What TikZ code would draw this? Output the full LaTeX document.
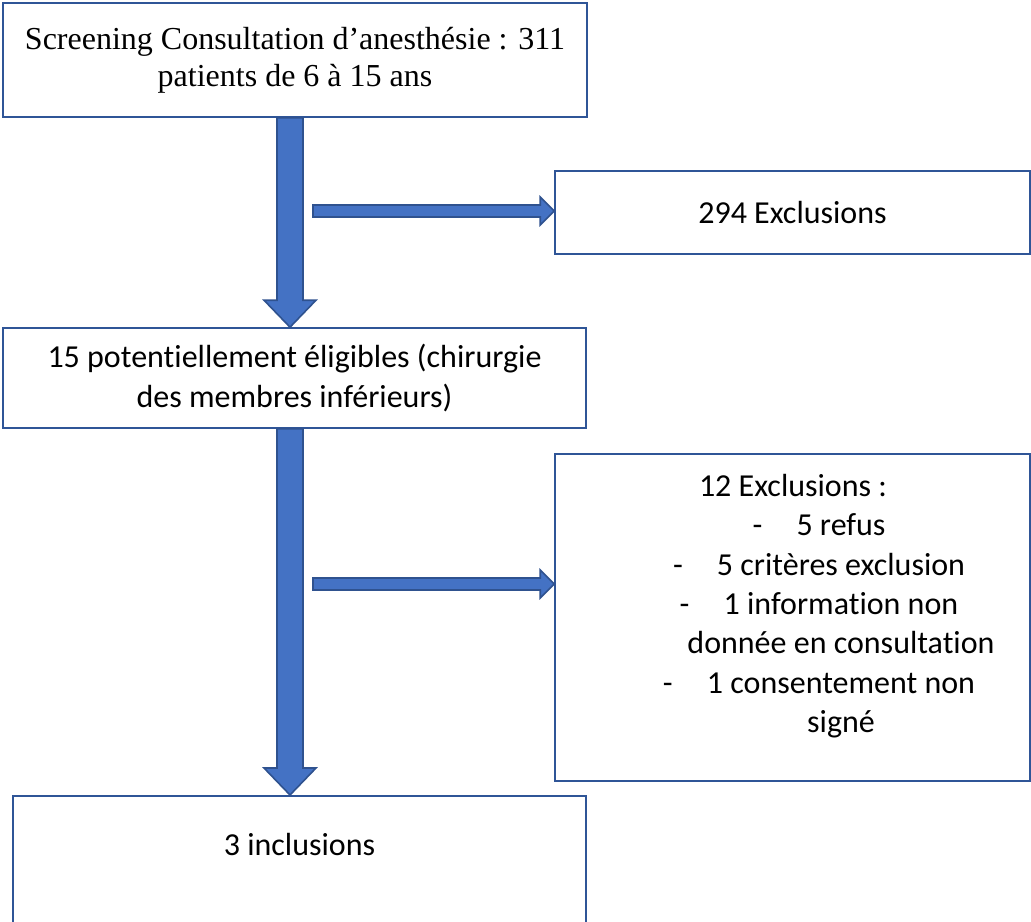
\documentclass[tikz,border=0pt]{standalone}
\usepackage{fontspec}
\setmainfont{Carlito}[Ligatures=NoCommon]
\newfontfamily\timesfont{Liberation Serif}
\usetikzlibrary{calc}

\definecolor{boxline}{HTML}{2F5597}
\definecolor{arrowfill}{HTML}{4472C4}
\definecolor{arrowline}{HTML}{2F528F}

\tikzset{
    flowbox/.style={draw=boxline, line width=1.2pt, rectangle, inner sep=0pt},
    txt/.style={font=\fontsize{24}{29.5}\selectfont, inner sep=0pt},
    blockarrow/.style={fill=arrowfill, draw=arrowline, line width=1.2pt, line join=miter}
}

\begin{document}
\begin{tikzpicture}[x=0.75pt, y=-0.75pt]
    \useasboundingbox (0,0) rectangle (1031,921);

    % Boxes of the flow chart
    \node[flowbox, minimum width=438pt, minimum height=85.5pt, align=center,
          font=\timesfont\fontsize{24}{28}\selectfont] (scr) at (295,60)
        {Screening Consultation d’anesthésie : 311\\patients de 6 à 15 ans};
    \node[flowbox, minimum width=356.25pt, minimum height=62.25pt,
          font=\fontsize{24}{29.5}\selectfont] (excl) at (792.5,212.5) {294 Exclusions};
    \node[flowbox, minimum width=437.25pt, minimum height=75pt, align=center,
          font=\fontsize{24}{29.5}\selectfont] (elig) at (294.5,378)
        {15 potentiellement éligibles (chirurgie\\des membres inférieurs)};
    \node[flowbox, minimum width=356.25pt, minimum height=245.25pt] (exclb) at (792.5,617.5) {};
    \node[flowbox, anchor=north, minimum width=429.75pt, text height=45pt, text depth=75pt,
          font=\fontsize{24}{29.5}\selectfont] (incl) at (299.5,795) {3 inclusions};

    % Text of the second exclusion box
    \node[txt] (extitle) at (793,486) {12 Exclusions :};
    \node[txt, align=center] (exlist) at (841,626)
        {\llap{\makebox[33pt][l]{-}}5 refus\\
         \llap{\makebox[33pt][l]{-}}5 critères exclusion\\
         \llap{\makebox[33pt][l]{-}}1 information non\\
         donnée en consultation\\
         \llap{\makebox[33pt][l]{-}}1 consentement non\\
         signé};

    % Down arrow from screening to eligible
    \coordinate (d1a) at ($(scr.south)+(-5,0)$);
    \coordinate (d1b) at ($(elig.north)+(-4.5,0)$);
    \filldraw[blockarrow] ($(d1a)+(-13,0)$) -- ($(d1b)+(-13,-27)$) -- ($(d1b)+(-26,-27)$)
        -- (d1b) -- ($(d1b)+(26,-27)$) -- ($(d1b)+(13,-27)$) -- ($(d1a)+(13,0)$) -- cycle;

    % Down arrow from eligible to inclusions
    \coordinate (d2a) at ($(elig.south)+(-4.5,0)$);
    \coordinate (d2b) at ($(incl.north)+(-9.5,0)$);
    \filldraw[blockarrow] ($(d2a)+(-13,0)$) -- ($(d2b)+(-13,-27)$) -- ($(d2b)+(-26,-27)$)
        -- (d2b) -- ($(d2b)+(26,-27)$) -- ($(d2b)+(13,-27)$) -- ($(d2a)+(13,0)$) -- cycle;

    % Side arrows to the exclusion boxes
    \coordinate (h1a) at (313,211);
    \coordinate (h1b) at (h1a -| excl.west);
    \filldraw[blockarrow] ($(h1a)+(0,-6)$) -- ($(h1b)+(-14,-6)$) -- ($(h1b)+(-14,-14)$)
        -- (h1b) -- ($(h1b)+(-14,14)$) -- ($(h1b)+(-14,6)$) -- ($(h1a)+(0,6)$) -- cycle;

    \coordinate (h2a) at (313,584);
    \coordinate (h2b) at (h2a -| exclb.west);
    \filldraw[blockarrow] ($(h2a)+(0,-6)$) -- ($(h2b)+(-14,-6)$) -- ($(h2b)+(-14,-14)$)
        -- (h2b) -- ($(h2b)+(-14,14)$) -- ($(h2b)+(-14,6)$) -- ($(h2a)+(0,6)$) -- cycle;

\end{tikzpicture}
\end{document}
